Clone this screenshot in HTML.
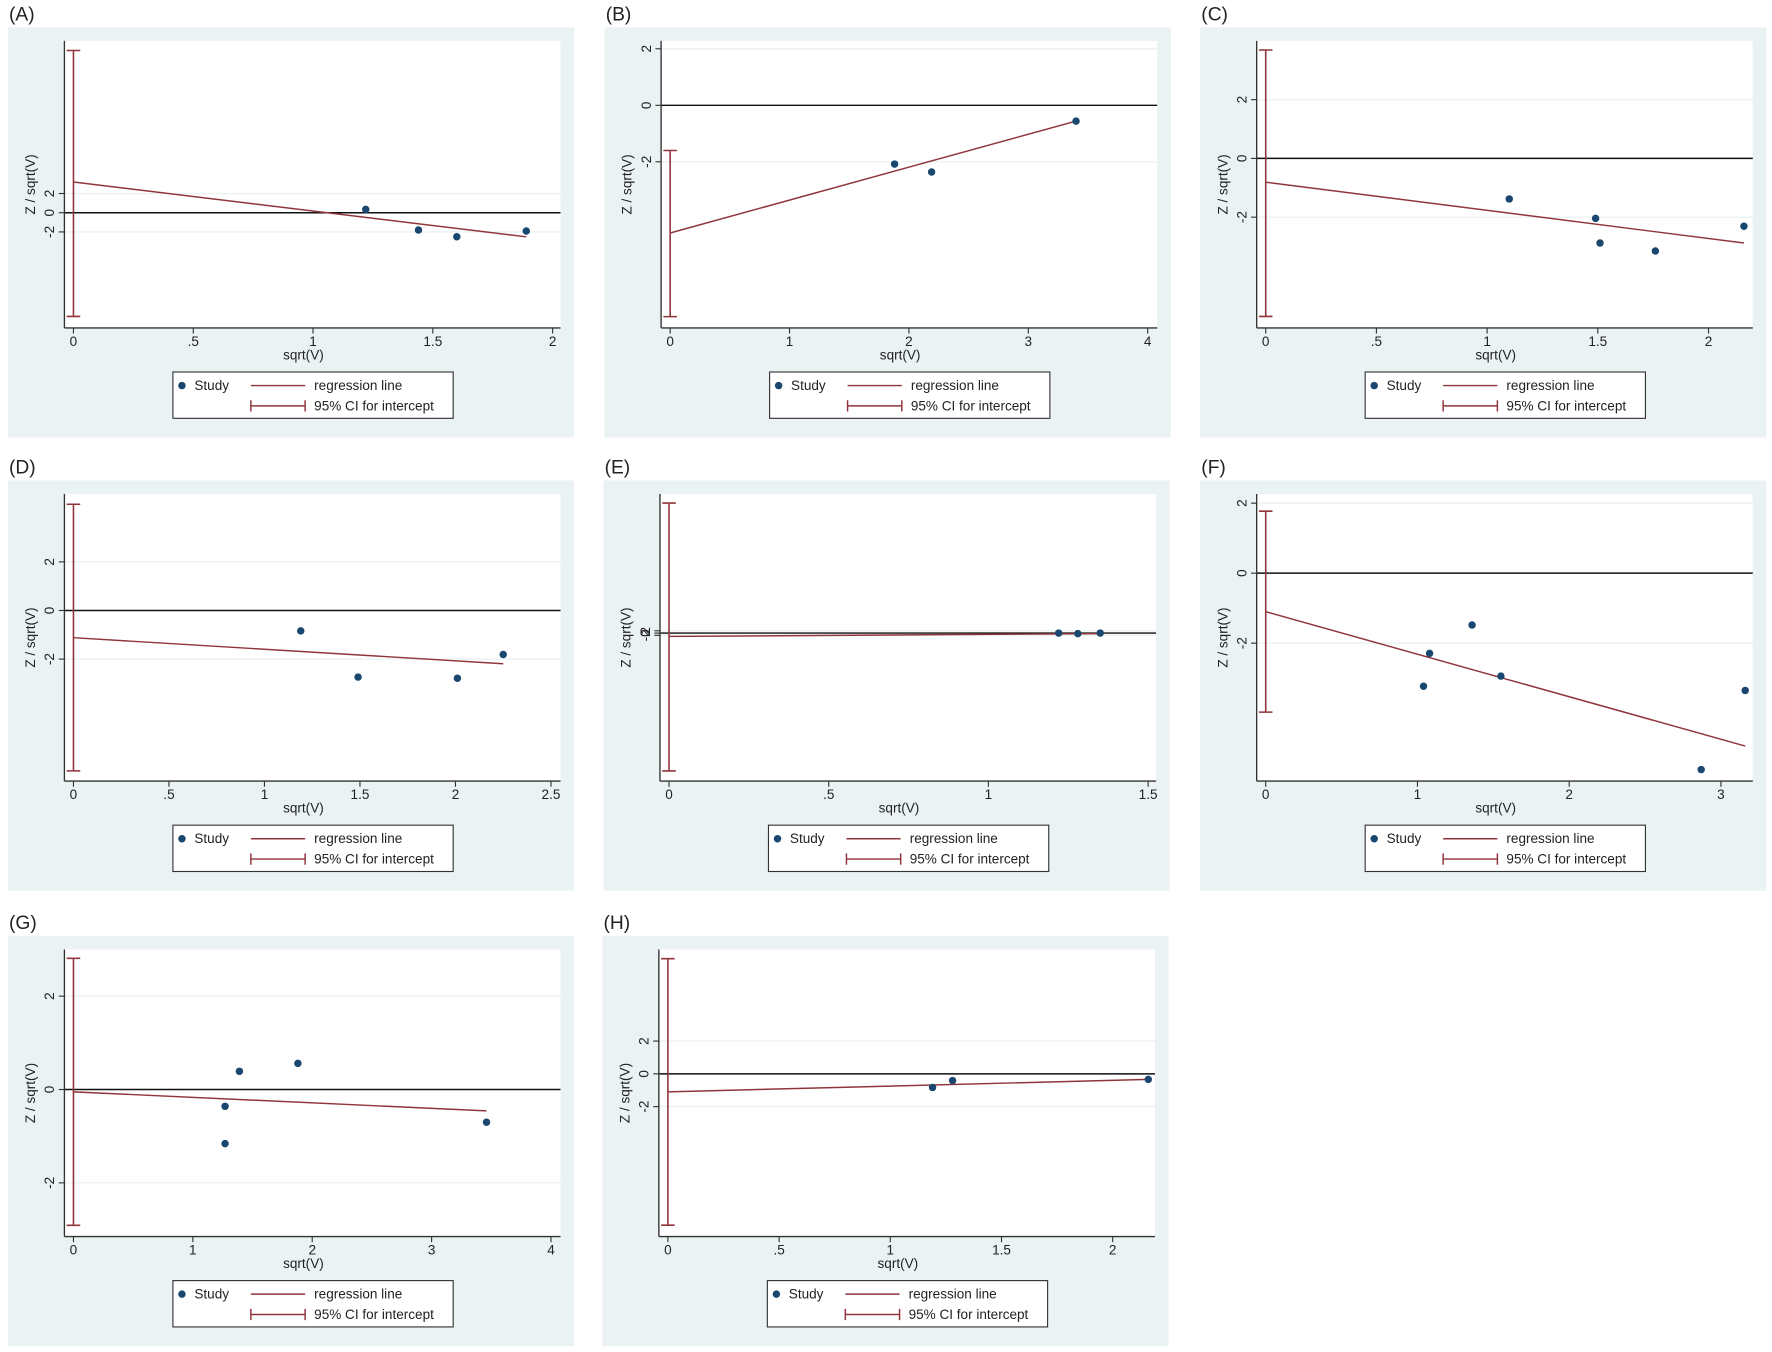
<!DOCTYPE html>
<html><head><meta charset="utf-8">
<style>
html,body{margin:0;padding:0;background:#fff;}
svg{display:block;font-family:"Liberation Sans",Arial,sans-serif;}
</style></head>
<body>
<svg id="fig" width="1772" height="1352" viewBox="0 0 1568 1196" xmlns="http://www.w3.org/2000/svg"></svg>
<script>
// ---- data per panel ----
const xA=[1.22,1.44,1.60,1.89];        const yA=[0.35,-1.8,-2.5,-1.9];
const regA=[3.2,-3.02];  const ciA=[-10.8,16.9];
const xTicksA=[0,0.5,1,1.5,2]; const xLabA=["0",".5","1","1.5","2"]; const yTicksA=[-2,0,2]; const yLabA=["-2","0","2"];

const xB=[1.88,2.19,3.40];             const yB=[-2.08,-2.36,-0.56];
const regB=[-4.52,1.165]; const ciB=[-7.48,-1.6];
const xTicksB=[0,1,2,3,4]; const xLabB=["0","1","2","3","4"]; const yTicksB=[-2,0,2]; const yLabB=["-2","0","2"];

const xC=[1.10,1.49,1.51,1.76,2.16];   const yC=[-1.38,-2.04,-2.88,-3.15,-2.31];
const regC=[-0.81,-0.958]; const ciC=[-5.38,3.69];
const xTicksC=[0,0.5,1,1.5,2]; const xLabC=["0",".5","1","1.5","2"]; const yTicksC=[-2,0,2]; const yLabC=["-2","0","2"];

const xD=[1.19,1.49,2.01,2.25];        const yD=[-0.84,-2.74,-2.79,-1.81];
const regD=[-1.12,-0.476]; const ciD=[-6.6,4.37];
const xTicksD=[0,0.5,1,1.5,2,2.5]; const xLabD=["0",".5","1","1.5","2","2.5"]; const yTicksD=[-2,0,2]; const yLabD=["-2","0","2"];

const xE=[1.22,1.28,1.35];             const yE=[0,-0.5,0];
const regE=[-3,1.85]; const ciE=[-122,115];
const xTicksE=[0,0.5,1,1.5]; const xLabE=["0",".5","1","1.5"]; const yTicksE=[-2,0,2]; const yLabE=["-2","0","2"];

const xF=[1.04,1.08,1.36,1.55,2.87,3.16]; const yF=[-3.23,-2.29,-1.48,-2.94,-5.61,-3.35];
const regF=[-1.10,-1.215]; const ciF=[-3.97,1.77];
const xTicksF=[0,1,2,3]; const xLabF=["0","1","2","3"]; const yTicksF=[-2,0,2]; const yLabF=["-2","0","2"];

const xG=[1.27,1.39,1.88,1.27,3.46];   const yG=[-0.36,0.39,0.56,-1.16,-0.70];
const regG=[-0.05,-0.118]; const ciG=[-2.91,2.81];
const xTicksG=[0,1,2,3,4]; const xLabG=["0","1","2","3","4"]; const yTicksG=[-2,0,2]; const yLabG=["-2","0","2"];

const xH=[1.19,1.28,2.16];             const yH=[-0.83,-0.41,-0.34];
const regH=[-1.10,0.352]; const ciH=[-9.24,7.03];
const xTicksH=[0,0.5,1,1.5,2]; const xLabH=["0",".5","1","1.5","2"]; const yTicksH=[-2,0,2]; const yLabH=["-2","0","2"];

// ---- layout ----
const panels=[
 {id:"A",ox:7,oy:24,xs:xA,ys:yA,reg:regA,ci:ciA,xt:xTicksA,xl:xLabA,yt:yTicksA,yl:yLabA,xMax:2.033,yTop:17.9,yBot:-12.0},
 {id:"B",ox:535,oy:24,xs:xB,ys:yB,reg:regB,ci:ciB,xt:xTicksB,xl:xLabB,yt:yTicksB,yl:yLabB,xMax:4.08,yTop:2.28,yBot:-7.88},
 {id:"C",ox:1062,oy:24,xs:xC,ys:yC,reg:regC,ci:ciC,xt:xTicksC,xl:xLabC,yt:yTicksC,yl:yLabC,xMax:2.2,yTop:4.0,yBot:-5.77},
 {id:"D",ox:7,oy:425,xs:xD,ys:yD,reg:regD,ci:ciD,xt:xTicksD,xl:xLabD,yt:yTicksD,yl:yLabD,xMax:2.55,yTop:4.79,yBot:-7.02},
 {id:"E",ox:534,oy:425,xs:xE,ys:yE,reg:regE,ci:ciE,xt:xTicksE,xl:xLabE,yt:yTicksE,yl:yLabE,xMax:1.525,yTop:123,yBot:-131},
 {id:"F",ox:1062,oy:425,xs:xF,ys:yF,reg:regF,ci:ciF,xt:xTicksF,xl:xLabF,yt:yTicksF,yl:yLabF,xMax:3.21,yTop:2.26,yBot:-5.94},
 {id:"G",ox:7,oy:828,xs:xG,ys:yG,reg:regG,ci:ciG,xt:xTicksG,xl:xLabG,yt:yTicksG,yl:yLabG,xMax:4.08,yTop:3.0,yBot:-3.15},
 {id:"H",ox:533,oy:828,xs:xH,ys:yH,reg:regH,ci:ciH,xt:xTicksH,xl:xLabH,yt:yTicksH,yl:yLabH,xMax:2.19,yTop:7.59,yBot:-9.93}
];
const NS="http://www.w3.org/2000/svg";
const svg=document.getElementById('fig');
function mk(tag,attrs,parent){const e=document.createElementNS(NS,tag);for(const k in attrs)e.setAttribute(k,attrs[k]);parent.appendChild(e);return e;}
const RED="#90353b", NAVY="#1a476f", BG="#eaf2f3";

panels.forEach(p=>{
  const g=mk('g',{transform:`translate(${p.ox},${p.oy})`},svg);
  
  
  const L=50,R=489,T=12,B=266,X0=58;
  const sx=v=>X0+(R-X0)*v/p.xMax;
  const sy=v=>T+(B-T)*(p.yTop-v)/(p.yTop-p.yBot);
  const lab=mk('text',{x:1,y:-6,'font-size':17,fill:'#222'},g); lab.textContent='('+p.id+')';
   
  const bg=mk('rect',{x:0,y:0,width:501,height:363,fill:BG},g);
   
  const pr=mk('rect',{x:L,y:T,width:R-L,height:B-T,fill:'#fff'},g);
   
  // grid + y ticks
  p.yt.forEach((t,i)=>{
    const y=sy(t);
    if(y<T||y>B) return;
    const gl=mk('line',{x1:L,x2:R,y1:y,y2:y,stroke:BG,'stroke-width':1.2},g);
     
    mk('line',{x1:L-5,x2:L,y1:y,y2:y,stroke:'#333','stroke-width':1},g);
    const tx=mk('text',{x:0,y:0,'font-size':12,fill:'#222','text-anchor':'middle',transform:`translate(${L-9},${y}) rotate(-90)`},g);
    tx.textContent=p.yl[i];
     
  });
  // zero line
  const z=mk('line',{x1:L,x2:R,y1:sy(0),y2:sy(0),stroke:'#111','stroke-width':1.3},g);
   
  // axes
  const ya=mk('line',{x1:L,x2:L,y1:T,y2:B,stroke:'#333','stroke-width':1.2},g);
   
  const xa=mk('line',{x1:L,x2:R,y1:B,y2:B,stroke:'#333','stroke-width':1.2},g);
   
  p.xt.forEach((t,i)=>{
    const x=sx(t);
    mk('line',{x1:x,x2:x,y1:B,y2:B+5,stroke:'#333','stroke-width':1},g);
    const tx=mk('text',{x:x,y:B+16,'font-size':12,fill:'#222','text-anchor':'middle'},g);
    tx.textContent=p.xl[i];
     
  });
  const xt=mk('text',{x:(L+R)/2-8,y:B+28,'font-size':12,fill:'#222','text-anchor':'middle'},g);
  xt.textContent='sqrt(V)';
   
  const yt=mk('text',{x:0,y:0,'font-size':12,fill:'#222','text-anchor':'middle',transform:`translate(${L-26},${(T+B)/2}) rotate(-90)`},g);
  yt.textContent='Z / sqrt(V)';
   
  // CI
  const cx=sx(0), c1=sy(p.ci[0]), c2=sy(p.ci[1]);
  const ci=mk('path',{d:`M${cx},${c1}V${c2}M${cx-6},${c1}H${cx+6}M${cx-6},${c2}H${cx+6}`,stroke:RED,'stroke-width':1.4,fill:'none'},g);
   
  // regression line
  const xm=Math.max(...p.xs);
  const rl=mk('line',{x1:sx(0),y1:sy(p.reg[0]),x2:sx(xm),y2:sy(p.reg[0]+p.reg[1]*xm),stroke:RED,'stroke-width':1.3},g);
   
  // points
  p.xs.forEach((v,i)=>{
    const c=mk('circle',{cx:sx(v),cy:sy(p.ys[i]),r:3.3,fill:NAVY},g);
     
  });
  // legend
  const lg=mk('g',{},g);
   
  mk('rect',{x:146,y:305,width:248,height:41,fill:'#fff',stroke:'#333','stroke-width':1},lg);
  mk('circle',{cx:154,cy:317,r:3.3,fill:NAVY},lg);
  const t1=mk('text',{x:165,y:321,'font-size':12,fill:'#222'},lg); t1.textContent='Study';
   
  mk('line',{x1:215,x2:263,y1:317,y2:317,stroke:RED,'stroke-width':1.3},lg);
  const t2=mk('text',{x:271,y:321,'font-size':12,fill:'#222'},lg); t2.textContent='regression line';
   
  mk('path',{d:'M215,335H263M215,330V340M263,330V340',stroke:RED,'stroke-width':1.3,fill:'none'},lg);
  const t3=mk('text',{x:271,y:339,'font-size':12,fill:'#222'},lg); t3.textContent='95% CI for intercept';
   
});
</script>
</body></html>
